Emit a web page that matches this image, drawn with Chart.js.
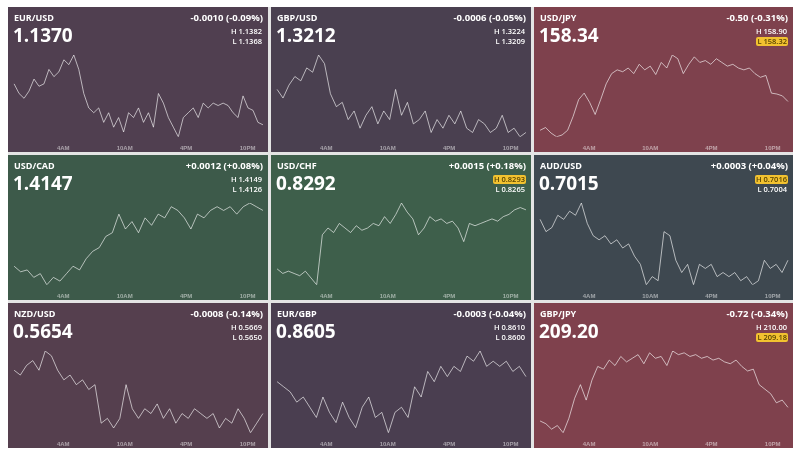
<!DOCTYPE html>
<html>
<head>
<meta charset="utf-8">
<script src="https://cdn.jsdelivr.net/npm/chart.js@4/dist/chart.umd.min.js"></script>
<style>
  body { margin: 0; background: #ffffff; font-family: 'Open Sans', sans-serif; }
  #grid {
    position: absolute; left: 8px; top: 7px;
    display: grid; grid-template-columns: 260px 260px 259px; grid-template-rows: 145px 145px 145px;
    gap: 3px; background: #e4e4e4; padding: 0;
  }
  .panel { position: relative; overflow: hidden; color: #fff; }
  .panel canvas { position: absolute; left: 0; top: 0; }
  .pair { position: absolute; left: 6px; top: 4px; font-size: 9px; font-weight: 700; }
  .chg { position: absolute; right: 5px; top: 4px; font-size: 9.5px; font-weight: 700; }
  .price { position: absolute; left: 5px; top: 15px; font-size: 19px; font-weight: 700; }
  .hl { position: absolute; right: 5px; font-size: 7.5px; font-weight: 600; line-height: 9px; padding: 0 1px; border-radius: 2px; }
  .hl.mark { background: #f2c230; color: #5a4400; }
</style>
</head>
<body>
<div id="grid"></div>
<script>
const pairs = ['EUR/USD', 'GBP/USD', 'USD/JPY', 'USD/CAD', 'USD/CHF', 'AUD/USD', 'NZD/USD', 'EUR/GBP', 'GBP/JPY'];
const lastPrices = ['1.1370', '1.3212', '158.34', '1.4147', '0.8292', '0.7015', '0.5654', '0.8605', '209.20'];
const changes = ['-0.0010 (-0.09%)', '-0.0006 (-0.05%)', '-0.50 (-0.31%)', '+0.0012 (+0.08%)', '+0.0015 (+0.18%)', '+0.0003 (+0.04%)', '-0.0008 (-0.14%)', '-0.0003 (-0.04%)', '-0.72 (-0.34%)'];
const highs = ['1.1382', '1.3224', '158.90', '1.4149', '0.8293', '0.7016', '0.5669', '0.8610', '210.00'];
const lows = ['1.1368', '1.3209', '158.32', '1.4126', '0.8265', '0.7004', '0.5650', '0.8600', '209.18'];
const highMarked = [false, false, false, false, true, true, false, false, false];
const lowMarked = [false, false, true, false, false, false, false, false, true];
const panelColors = ['#503f50', '#4a4050', '#7e414d', '#3d5a4a', '#3e5f4b', '#3e4850', '#553f4e', '#4a3e50', '#7f414d'];
const tickHours = [4, 10, 16, 22];
const tickNames = { 4: '4AM', 10: '10AM', 16: '4PM', 22: '10PM' };

const eurusd = [1.1378,1.1374,1.1372,1.1375,1.1380,1.1377,1.1378,1.1384,1.1381,1.1383,1.1388,1.1386,1.1390,1.1384,1.1374,1.1368,1.1366,1.1368,1.1362,1.1366,1.1360,1.1364,1.1358,1.1366,1.1364,1.1368,1.1362,1.1366,1.1360,1.1374,1.1370,1.1364,1.1360,1.1356,1.1364,1.1366,1.1368,1.1364,1.1370,1.1368,1.1370,1.1369,1.1370,1.1369,1.1366,1.1364,1.1373,1.1368,1.1367,1.1362,1.1361];
const gbpusd = [1.3218,1.3216,1.3219,1.3221,1.3220,1.3223,1.3222,1.3226,1.3224,1.3217,1.3214,1.3215,1.3211,1.3213,1.3209,1.3212,1.3214,1.3210,1.3213,1.3211,1.3218,1.3212,1.3215,1.3210,1.3211,1.3213,1.3208,1.3211,1.3209,1.3212,1.3210,1.3213,1.3209,1.3208,1.3211,1.3210,1.3208,1.3209,1.3212,1.3208,1.3209,1.3207,1.3208];
const usdjpy = [158.05,158.08,158.02,157.98,158.00,158.05,158.20,158.38,158.45,158.35,158.22,158.38,158.55,158.66,158.70,158.68,158.72,158.66,158.76,158.70,158.74,158.65,158.78,158.72,158.86,158.82,158.66,158.76,158.84,158.78,158.80,158.76,158.82,158.78,158.74,158.76,158.72,158.70,158.72,158.66,158.62,158.64,158.45,158.44,158.42,158.36];
const usdcad = [1.4118,1.4115,1.4116,1.4112,1.4114,1.4108,1.4112,1.4110,1.4114,1.4118,1.4116,1.4122,1.4126,1.4128,1.4134,1.4136,1.4146,1.4138,1.4142,1.4136,1.4144,1.4140,1.4146,1.4144,1.4150,1.4148,1.4144,1.4138,1.4146,1.4144,1.4148,1.4150,1.4148,1.4150,1.4146,1.4150,1.4152,1.4150,1.4148];
const usdchf = [0.8264,0.8262,0.8263,0.8262,0.8261,0.8263,0.8260,0.8257,0.8279,0.8282,0.8280,0.8284,0.8282,0.8280,0.8283,0.8281,0.8282,0.8284,0.8283,0.8287,0.8284,0.8288,0.8293,0.8289,0.8286,0.8279,0.8282,0.8287,0.8285,0.8286,0.8284,0.8285,0.8282,0.8276,0.8284,0.8283,0.8284,0.8285,0.8286,0.8285,0.8287,0.8288,0.8290,0.8291,0.8290];
const audusd = [0.7012,0.7009,0.7010,0.7013,0.7012,0.7014,0.7013,0.7016,0.7011,0.7008,0.7007,0.7008,0.7006,0.7007,0.7005,0.7006,0.7003,0.7001,0.6996,0.6998,0.6997,0.7009,0.7008,0.7002,0.6999,0.7001,0.6996,0.7001,0.7000,0.7001,0.6998,0.6999,0.6998,0.6999,0.6997,0.6998,0.6996,0.6997,0.7002,0.7000,0.7001,0.6999,0.7002];
const nzdusd = [0.5660,0.5659,0.5661,0.5662,0.5660,0.5664,0.5663,0.5660,0.5658,0.5659,0.5657,0.5658,0.5656,0.5657,0.5649,0.5650,0.5648,0.5650,0.5657,0.5652,0.5650,0.5652,0.5651,0.5653,0.5650,0.5652,0.5649,0.5651,0.5650,0.5652,0.5651,0.5650,0.5651,0.5648,0.5650,0.5649,0.5652,0.5650,0.5647,0.5649,0.5651];
const eurgbp = [0.8603,0.8602,0.8601,0.8599,0.8600,0.8598,0.8596,0.8600,0.8597,0.8595,0.8599,0.8596,0.8594,0.8598,0.8600,0.8596,0.8597,0.8593,0.8597,0.8598,0.8596,0.8602,0.8600,0.8605,0.8603,0.8606,0.8604,0.8606,0.8605,0.8608,0.8607,0.8609,0.8606,0.8607,0.8606,0.8607,0.8605,0.8606,0.8604];
const gbpjpy = [208.95,208.92,208.86,208.90,208.82,208.98,209.20,209.35,209.18,209.40,209.55,209.52,209.62,209.56,209.66,209.60,209.64,209.68,209.58,209.70,209.64,209.66,209.56,209.72,209.68,209.70,209.66,209.68,209.64,209.66,209.62,209.64,209.60,209.58,209.62,209.55,209.50,209.52,209.35,209.30,209.25,209.15,209.18,209.10];
const series = [eurusd, gbpusd, usdjpy, usdcad, usdchf, audusd, nzdusd, eurgbp, gbpjpy];

// session runs from just before midnight to ~11:30PM
const startHour = -0.8, endHour = 23.5;

const grid = document.getElementById('grid');
pairs.forEach((name, i) => {
    const p = document.createElement('div');
    p.className = 'panel';
    p.style.background = panelColors[i];
    const w = (i % 3 === 2) ? 259 : 260;
    p.innerHTML =
        `<canvas width="${w}" height="145" style="width:${w}px;height:145px"></canvas>` +
        `<div class="pair">${name}</div><div class="chg">${changes[i]}</div>` +
        `<div class="price">${lastPrices[i]}</div>` +
        `<div class="hl${highMarked[i] ? ' mark' : ''}" style="top:20px">H ${highs[i]}</div>` +
        `<div class="hl${lowMarked[i] ? ' mark' : ''}" style="top:30px">L ${lows[i]}</div>`;
    grid.appendChild(p);

    const vals = series[i];
    const step = (endHour - startHour) / (vals.length - 1);
    const pts = vals.map((v, k) => ({ x: startHour + k * step, y: v }));

    new Chart(p.querySelector('canvas'), {
        type: 'line',
        data: {
            datasets: [{
                data: pts,
                borderColor: 'rgba(255,255,255,0.62)',
                borderWidth: 1,
                pointRadius: 0,
                tension: 0
            }]
        },
        options: {
            responsive: false,
            animation: false,
            layout: { padding: { top: 48, left: 2, right: 2, bottom: 0 } },
            plugins: { legend: { display: false }, tooltip: { enabled: false } },
            scales: {
                x: {
                    type: 'linear',
                    min: -1.2,
                    max: 23.8,
                    grid: { display: false },
                    border: { display: false },
                    afterBuildTicks: axis => { axis.ticks = tickHours.map(h => ({ value: h })); },
                    ticks: {
                        color: 'rgba(255,255,255,0.5)',
                        font: { size: 6, weight: '700' },
                        padding: 0,
                        maxRotation: 0,
                        callback: v => tickNames[v] || ''
                    }
                },
                y: { display: false, min: Math.min(...vals), max: Math.max(...vals) }
            }
        }
    });
});
</script>
</body>
</html>
